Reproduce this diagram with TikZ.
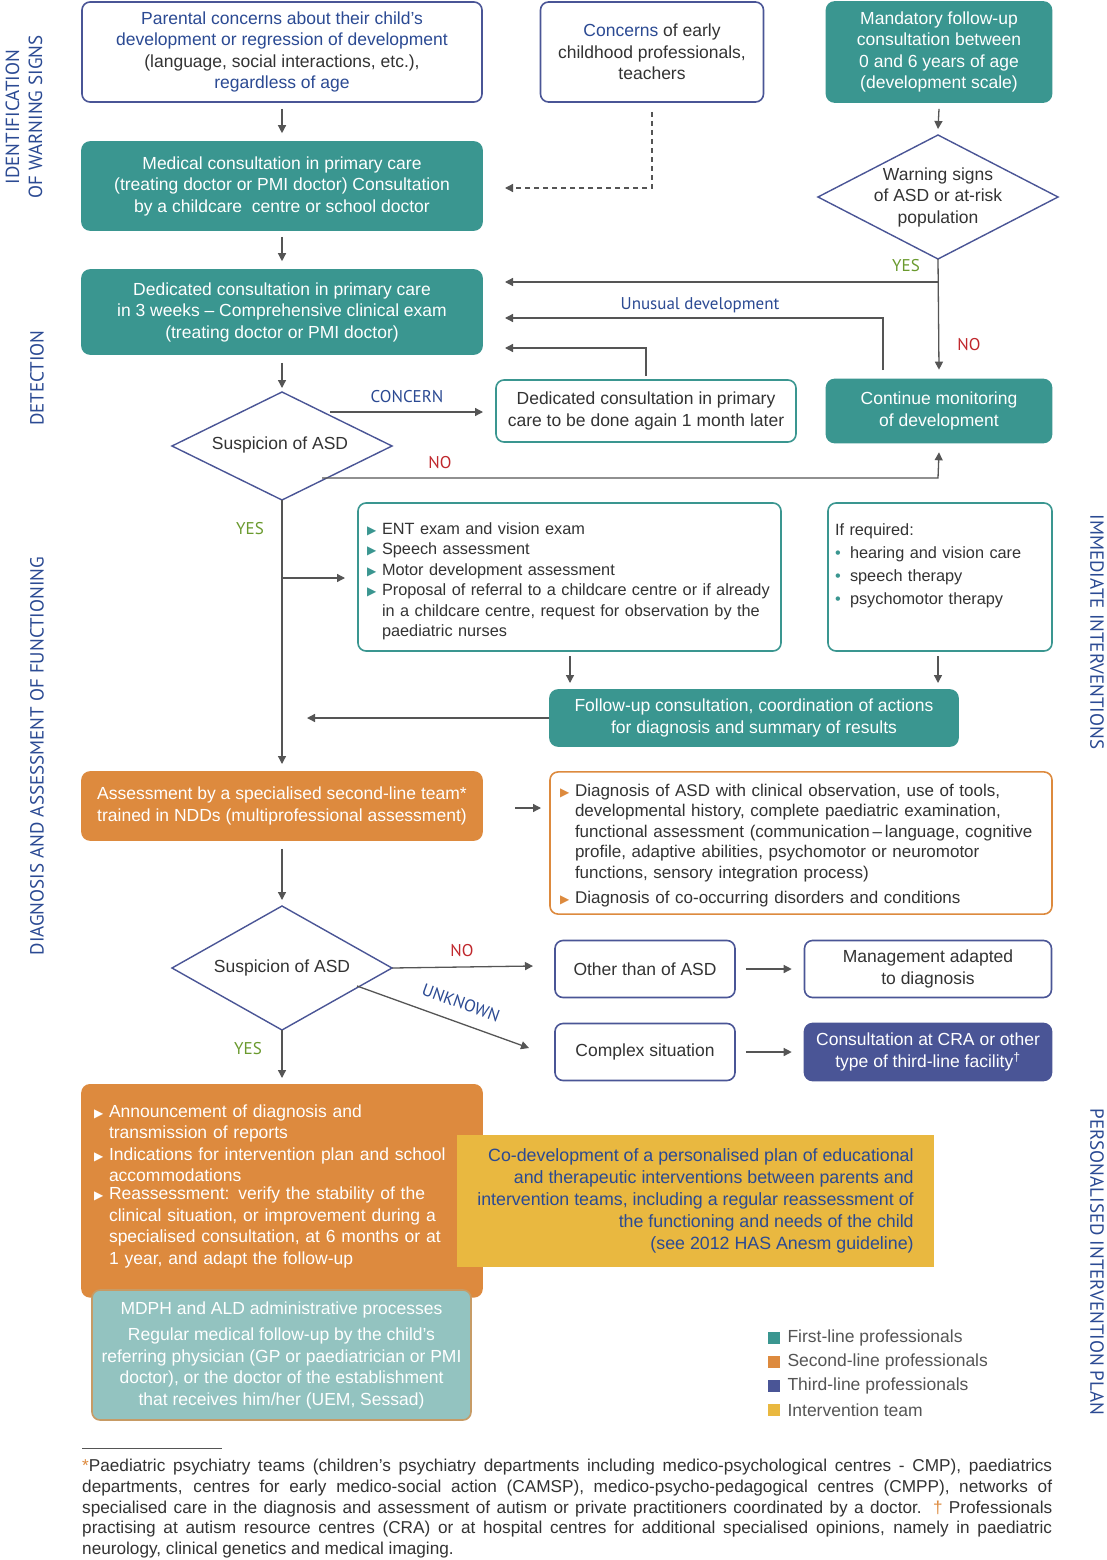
\documentclass[tikz,border=0pt]{standalone}
\usepackage{fontspec}
\setmainfont{Liberation Sans}
\newfontfamily\cond{PT Sans}
\newfontfamily\sym{DejaVu Sans}
\usetikzlibrary{arrows.meta}
\definecolor{teal1}{HTML}{3A9690}
\definecolor{orng}{HTML}{DD8A3E}
\definecolor{navy}{HTML}{4A5596}
\definecolor{yel}{HTML}{E9B840}
\definecolor{lteal}{HTML}{93C3C0}
\definecolor{blu}{HTML}{2B4A93}
\definecolor{grn}{HTML}{6A9A2E}
\definecolor{rd}{HTML}{C0282D}
\definecolor{gry}{HTML}{555555}
\definecolor{txt}{HTML}{333333}
\hyphenpenalty=10000 \exhyphenpenalty=10000
\newcommand\itl[2]{\par\noindent\makebox[15pt][l]{#1}\parbox[t]{\dimexpr\hsize-15pt\relax}{\raggedright #2}\par}
\newcommand\itj[2]{\par\noindent\makebox[15pt][l]{#1}\parbox[t]{\dimexpr\hsize-15pt\relax}{\leftskip=0pt\rightskip=0pt\parfillskip=0pt plus 1fil\hyphenpenalty=10000 #2\strut}\par}
\newcommand\tri[1]{{\color{#1}\sym\fontsize{12}{12}\selectfont ▶}}
\begin{document}
\begin{tikzpicture}[x=1pt,y=-1pt,
  every node/.style={font=\fontsize{17.5}{21.5}\selectfont, text=txt},
  box/.style={draw, line width=1.6pt, rounded corners=8pt, align=center, inner sep=4pt},
  wb/.style={box, fill=white, draw=navy},
  tb/.style={box, fill=teal1, draw=teal1, text=white},
  ob/.style={box, fill=orng, draw=orng, text=white},
  dia/.style={draw=navy, line width=1.4pt, fill=white},
  arr/.style={draw=gry, line width=1.3pt, -{Triangle[width=8pt,length=8pt]}},
  lab/.style={font=\cond\fontsize{17}{19}\selectfont},
  side/.style={font=\cond\fontsize{19}{23}\selectfont, text=blu, align=center}]
\useasboundingbox (0,0) rectangle (1106,1560);
\fill[white] (0,0) rectangle (1106,1560);

% side labels
\node[side, rotate=90] (s1) at (24,117) {IDENTIFICATION\\OF WARNING SIGNS};
\node[side, rotate=90] (s2) at (37,378) {DETECTION};
\node[side, rotate=90] (s3) at (37,756) {DIAGNOSIS AND ASSESSMENT OF FUNCTIONING};
\node[side, rotate=-90] (s4) at (1097,632) {IMMEDIATE INTERVENTIONS};
\node[side, rotate=-90] (s5) at (1097,1262) {PERSONALISED INTERVENTION PLAN};

% diamonds (drawn as paths)
\coordinate (d1n) at (938,135); \coordinate (d1s) at (938,259);
\draw[dia] (818,197) -- (d1n) -- (1058,197) -- (d1s) -- cycle;
\node[align=center] (d1) at (938,197) {Warning signs\\of ASD or at-risk\\population};
\coordinate (d2n) at (282,392); \coordinate (d2s) at (282,500);
\draw[dia] (172,446) -- (d2n) -- (392,446) -- (d2s) -- cycle;
\node (d2) at (280,445) {Suspicion of ASD};
\coordinate (d3n) at (282,906); \coordinate (d3s) at (282,1030); \coordinate (d3e) at (392,968);
\draw[dia] (172,968) -- (d3n) -- (d3e) -- (d3s) -- cycle;
\node (d3) at (282,968) {Suspicion of ASD};

% top row
\node[wb, minimum width=400pt, minimum height=100pt] (b1) at (282,52)
 {\textcolor{blu}{Parental concerns about their child’s}\\\textcolor{blu}{development or regression of development}\\(language, social interactions, etc.),\\\textcolor{blu}{regardless of age}};
\node[wb, minimum width=223pt, minimum height=100pt] (b2) at (652,52)
 {\textcolor{blu}{Concerns} of early\\childhood professionals,\\teachers};
\node[tb, minimum width=225pt, minimum height=100pt] (b3) at (939,52)
 {Mandatory follow-up\\consultation between\\0 and 6 years of age\\(development scale)};
\node[tb, minimum width=400pt, minimum height=88pt] (b4) at (282,186)
 {Medical consultation in primary care\\(treating doctor or PMI doctor) Consultation\\by a childcare\ \ centre or school doctor};
\node[tb, minimum width=400pt, minimum height=84pt] (b5) at (282,312)
 {Dedicated consultation in primary care\\in 3 weeks – Comprehensive clinical exam\\(treating doctor or PMI doctor)};
\node[box, draw=teal1, fill=white, minimum width=300pt, minimum height=62pt] (b6) at (646,411)
 {Dedicated consultation in primary\\care to be done again 1 month later};
\node[tb, minimum width=225pt, minimum height=63pt] (b7) at (939,411)
 {Continue monitoring\\of development};

\coordinate (c1) at (652,112);
\coordinate (c2) at (652,188);
\coordinate (c3) at (505,188);
\draw[arr, dash pattern=on 5pt off 4pt] (c1) -- (c2) -- (c3);
\draw[arr] ([yshift=-6pt]b1.south) -- ([yshift=8pt]b4.north);
\draw[arr] ([yshift=-6pt]b3.south) -- ([yshift=6pt]d1n);
\draw[arr] ([yshift=-6pt]b4.south) -- ([yshift=8pt]b5.north);
\draw[arr] (d1s) -- ([yshift=9pt]b7.north);
\coordinate (y1) at (938,282);
\coordinate (y2) at (505,282);
\draw[arr] (y1) -- (y2);
\node[lab, text=grn] (ly) at (906,266) {YES};
\node[lab, text=rd] (ln1) at (969,345) {NO};
\coordinate (u1) at (883,370); \coordinate (u2) at (883,318); \coordinate (u3) at (505,318);
\draw[arr] (u1) -- (u2) -- (u3);
\node[lab, text=blu] (lu) at (700,305) {Unusual development};
\coordinate (r0) at (646,376); \coordinate (r1) at (646,348); \coordinate (r2) at (505,348);
\draw[arr] (r0) -- (r1) -- (r2);
\draw[arr] ([yshift=-8pt]b5.south) -- ([yshift=4pt]d2n);
\coordinate (k1) at (330,412); \coordinate (k2) at (483,412);
\draw[arr] (k1) -- (k2);
\node[lab, text=blu] (lc) at (407,397) {CONCERN};
\coordinate (n1) at (322,478); \coordinate (n2) at (938,478);
\draw[arr] (n1) -- (n2) -- ([yshift=-9pt]b7.south);
\node[lab, text=rd] (ln2) at (440,463) {NO};
\node[lab, text=grn] (ly2) at (250,529) {YES};

% functioning
\node[box, draw=teal1, fill=white, minimum width=423pt, minimum height=148pt, text width=405pt, align=left, font=\fontsize{16.3}{20.5}\selectfont] (b8) at (569.5,577)
 {\itl{\tri{teal1}}{ENT exam and vision exam}
  \itl{\tri{teal1}}{Speech assessment}
  \itl{\tri{teal1}}{Motor development assessment}
  \itl{\tri{teal1}}{Proposal of referral to a childcare centre or if already in a childcare centre, request for observation by the paediatric nurses}};
\node[box, draw=teal1, fill=white, minimum width=224pt, minimum height=148pt, text width=210pt, align=left, font=\fontsize{16.3}{23}\selectfont] (b9) at (940,577)
 {If required:
  \itl{\textcolor{teal1}{•}}{hearing and vision care}
  \itl{\textcolor{teal1}{•}}{speech therapy}
  \itl{\textcolor{teal1}{•}}{psychomotor therapy}\vspace{22pt}};
\node[tb, minimum width=408pt, minimum height=56pt] (b10) at (754,718)
 {Follow-up consultation, coordination of actions\\for diagnosis and summary of results};
\coordinate (e1) at (282,764);
\draw[arr] (d2s) -- (e1);
\coordinate (f1) at (282,578); \coordinate (f2) at (345,578);
\draw[arr] (f1) -- (f2);
\draw[arr] (570,656) -- (570,683);
\draw[arr] (938,656) -- (938,683);
\coordinate (h1) at (307,718);
\draw[arr] (b10.west) -- (h1);

\node[ob, minimum width=400pt, minimum height=68pt] (b11) at (282,806)
 {Assessment by a specialised second-line team*\\trained in NDDs (multiprofessional assessment)};
\node[box, draw=orng, fill=white, minimum width=502pt, minimum height=142pt, text width=482pt, align=left, font=\fontsize{17}{20.5}\selectfont] (b12) at (801,843)
 {\itj{\tri{orng}}{Diagnosis of ASD with clinical observation, use of tools, developmental history, complete paediatric examination, functional assessment (communication\,–\,language, cognitive profile, adaptive abilities, psychomotor or neuromotor functions, sensory integration process)}\vspace{4pt}
  \itj{\tri{orng}}{Diagnosis of co-occurring disorders and conditions}};
\draw[arr] (515,808) -- (541,808);
\draw[arr] ([yshift=-8pt]b11.south) -- ([yshift=6pt]d3n);
\node[wb, minimum width=180pt, minimum height=57pt] (b13) at (645,969) {Other than of ASD};
\node[wb, minimum width=247pt, minimum height=57pt] (b14) at (928,969) {Management adapted\\to diagnosis};
\node[wb, minimum width=180pt, minimum height=57pt] (b15) at (645,1052) {Complex situation};
\node[box, fill=navy, draw=navy, text=white, minimum width=247pt, minimum height=57pt] (b16) at (928,1052)
 {Consultation at CRA or other\\type of third-line facility\textsuperscript{†}};
\coordinate (m1) at (533,966);
\draw[arr] (d3e) -- (m1);
\node[lab, text=rd] (ln3) at (462,951) {NO};
\coordinate (q1) at (357,986); \coordinate (q2) at (529,1048);
\draw[arr] (q1) -- (q2);
\node[lab, text=blu, rotate=-20, inner sep=0pt] (lk) at (461,1003) {UNKNOWN};
\draw[arr] ([xshift=10pt]b13.east) -- ([xshift=-12pt]b14.west);
\draw[arr] ([xshift=10pt]b15.east) -- ([xshift=-12pt]b16.west);
\node[lab, text=grn] (ly3) at (248,1049) {YES};
\coordinate (z1) at (282,1078);
\draw[arr] (d3s) -- (z1);

% bottom
\node[ob, minimum width=400pt, minimum height=212pt, text width=376pt, align=left, anchor=north] (b17) at (282,1084)
 {\hsize=362pt\itl{\tri{white}}{Announcement of diagnosis and transmission of reports}\vspace{4pt}
  \itl{\tri{white}}{Indications for intervention plan and school accommodations}\vspace{4pt}
  \itl{\tri{white}}{Reassessment: verify the stability of the clinical situation, or improvement during a specialised consultation, at 6 months or at 1 year, and adapt the follow-up}\vspace{18pt}};
\node[box, rounded corners=0pt, draw=yel, fill=yel, text=blu, minimum width=475pt, minimum height=130pt, align=right, font=\fontsize{17.8}{22}\selectfont] (b18) at (695.5,1201)
 {Co-development of a personalised plan of educational\\and therapeutic interventions between parents and\\intervention teams, including a regular reassessment of\\the functioning and needs of the child\\(see 2012 HAS Anesm guideline)};
\node[box, draw=orng!70!lteal, fill=lteal, text=white, minimum width=379pt, minimum height=130pt] (b19) at (281.5,1355)
 {MDPH and ALD administrative processes\\[5pt]Regular medical follow-up by the child’s\\referring physician (GP or paediatrician or PMI\\doctor), or the doctor of the establishment\\that receives him/her (UEM, Sessad)};

% legend
\fill[teal1] (768,1332) rectangle (780,1344);
\fill[orng] (768,1356) rectangle (780,1368);
\fill[navy] (768,1380) rectangle (780,1392);
\fill[yel] (768,1404) rectangle (780,1416);
\node[anchor=west, text=gry] (g1) at (784,1338) {First-line professionals};
\node[anchor=west, text=gry] (g2) at (784,1362) {Second-line professionals};
\node[anchor=west, text=gry] (g3) at (784,1386) {Third-line professionals};
\node[anchor=west, text=gry] (g4) at (784,1410) {Intervention team};

% footnote
\draw[gry, line width=0.6pt] (82,1448) -- (222,1448);
\node[anchor=north west, inner sep=0pt, text width=970pt, align=justify, font=\fontsize{17.2}{20.75}\selectfont] (fn) at (82,1459)
 {\textcolor{orng}{*}Paediatric psychiatry teams (children’s psychiatry departments including medico-psychological centres - CMP), paediatrics departments, centres for early medico-social action (CAMSP), medico-psycho-pedagogical centres (CMPP), networks of specialised care in the diagnosis and assessment of autism or private practitioners coordinated by a doctor. \textcolor{orng}{†} Professionals practising at autism resource centres (CRA) or at hospital centres for additional specialised opinions, namely in paediatric neurology, clinical genetics and medical imaging.};
\end{tikzpicture}
\end{document}
